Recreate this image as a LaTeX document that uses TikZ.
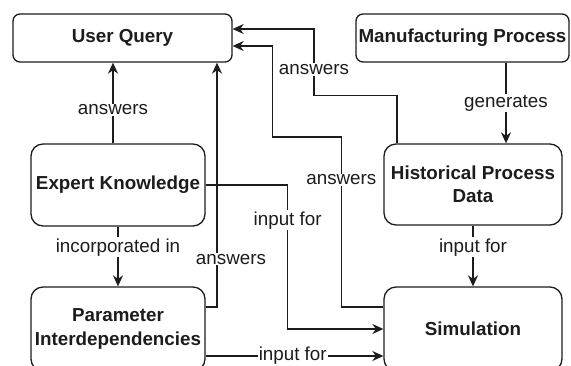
\documentclass[tikz,border=0pt]{standalone}
\usepackage{fontspec}
\setmainfont{Liberation Sans}
\usetikzlibrary{arrows.meta}
\definecolor{ink}{HTML}{1C1C1C}
\begin{document}
\begin{tikzpicture}[x=1pt,y=-1pt,
  box/.style={draw=ink, line width=1.3pt, rounded corners=#1, inner sep=0pt,
    align=center, text=ink, font=\fontsize{18.8}{23.5}\selectfont\bfseries},
  box/.default=12pt,
  arr/.style={draw=ink, line width=1.3pt, -{Stealth[length=11pt,width=10pt,inset=3.5pt]}},
  lbl/.style={fill=white, inner sep=1pt, text=ink, font=\fontsize{18.8}{23.5}\selectfont}]
\clip (0,0) rectangle (571,365);

% boxes
\node[box=7pt, minimum width=219pt, minimum height=48pt] (uq) at (122.5,38) {User Query};
\node[box=7pt, minimum width=213pt, minimum height=48pt] (mp) at (462.5,38) {Manufacturing Process};
\node[box, minimum width=174pt, minimum height=82pt] (ek) at (118,185) {Expert Knowledge};
\node[box, minimum width=178pt, minimum height=81pt] (hp) at (473,184.5) {Historical Process\\Data};
\node[box, minimum width=174pt, minimum height=84pt] (pi) at (118,329) {Parameter\\Interdependencies};
\node[box, minimum width=178pt, minimum height=84pt] (sim) at (473,329) {Simulation};

% connectors
\draw[arr] ([xshift=-5pt]ek.north) -- ([xshift=-9.5pt]uq.south)
  node[lbl, pos=0.415] {answers};
\draw[arr] ([yshift=22pt]pi.east) -| ([xshift=94.5pt]uq.south)
  node[lbl, pos=0.598, xshift=14pt] {answers};
\draw[arr] ([xshift=-76pt]hp.north) -- ++(0,-48) -- ++(-83,0)
  |- node[lbl, pos=0.194] {answers} ([yshift=9pt]uq.east);
\draw[arr] ([yshift=22pt]sim.west) -- ++(-42,0) -- node[lbl, pos=0.747] {answers} ++(0,-170)
  -- ++(-69,0) |- ([yshift=-8pt]uq.east);
\draw[arr] (ek.east) -- ++(82,0) |- node[lbl, pos=0.122] {input for} (sim.west);
\draw[arr] ([yshift=-27pt]pi.east) -- node[lbl, pos=0.49] {input for} ([yshift=-27pt]sim.west);
\draw[arr] (ek.south) -- node[lbl, pos=0.344] {incorporated in} (pi.north);
\draw[arr] ([xshift=43.5pt]mp.south) -- node[lbl, pos=0.5] {generates} ([xshift=33pt]hp.north);
\draw[arr] (hp.south) -- node[lbl, pos=0.355] {input for} (sim.north);
\end{tikzpicture}
\end{document}
